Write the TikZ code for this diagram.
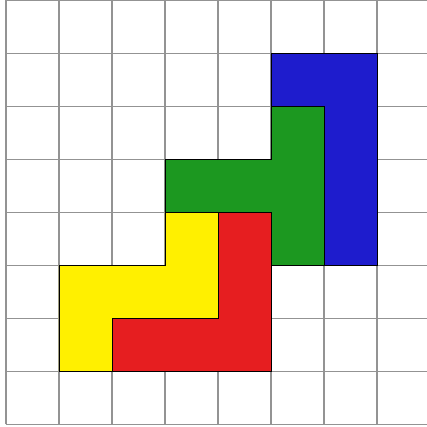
\documentclass[tikz,border=0pt]{standalone}
\usepackage{tikz}

\definecolor{pblue}{RGB}{30,28,205}
\definecolor{pgreen}{RGB}{28,152,32}
\definecolor{pred}{RGB}{230,30,32}
\definecolor{pyellow}{RGB}{255,240,0}

\begin{document}
\begin{tikzpicture}[x=1cm,y=1cm]
\tikzstyle{gridline}=[draw=gray!85,line width=0.6pt]
\tikzstyle{piece}=[draw=black,line width=0.5pt,line join=miter]
\useasboundingbox (-0.113,-0.05) rectangle (7.943,8.007);
% grid
\foreach \x in {0,...,7} \draw[gridline] (\x,0) -- (\x,8);
\foreach \y in {0,...,8} \draw[gridline] (0,\y) -- (7.95,\y);
% pieces
\filldraw[piece,fill=pblue] (5,7) -- (7,7) -- (7,3) -- (6,3) -- (6,6) -- (5,6) -- cycle;
\filldraw[piece,fill=pgreen] (5,6) -- (6,6) -- (6,3) -- (5,3) -- (5,4) -- (3,4) -- (3,5) -- (5,5) -- cycle;
\filldraw[piece,fill=pred] (4,4) -- (5,4) -- (5,1) -- (2,1) -- (2,2) -- (4,2) -- cycle;
\filldraw[piece,fill=pyellow] (3,4) -- (4,4) -- (4,2) -- (2,2) -- (2,1) -- (1,1) -- (1,3) -- (3,3) -- cycle;
\end{tikzpicture}
\end{document}
